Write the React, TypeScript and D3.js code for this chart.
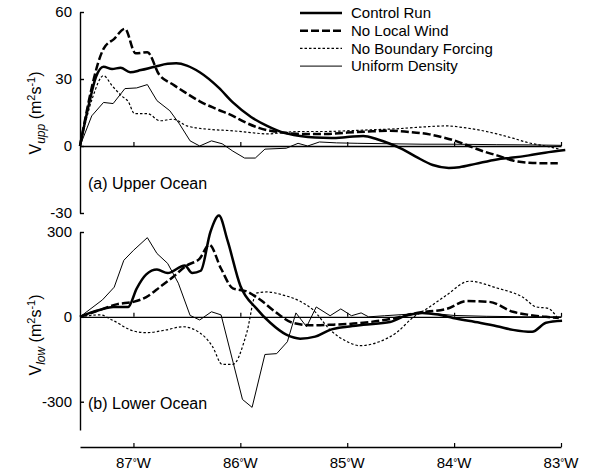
import React, { Component } from 'react'
import * as d3 from 'd3'

type Pt = [number, number]

// longitude (deg, west negative), transport (m2/s)
const lonTicks = [-87, -86, -85, -84, -83]
const upperTicks = [60, 30, 0, -30]
const lowerTicks = [300, 0, -300]
const seriesNames = ['Control Run', 'No Local Wind', 'No Boundary Forcing', 'Uniform Density']

const controlUpper: Pt[] = [
  [-87.5, 0], [-87.42, 18], [-87.35, 31], [-87.28, 35.5], [-87.2, 34.5], [-87.12, 35], [-87.03, 33],
  [-86.93, 34], [-86.8, 35.5], [-86.68, 36.8], [-86.6, 37], [-86.5, 36], [-86.38, 33], [-86.2, 26],
  [-86.07, 19.5], [-85.9, 13], [-85.75, 9], [-85.6, 6], [-85.44, 4.5], [-85.3, 3.8], [-85.15, 3.6],
  [-85.0, 4], [-84.85, 4.5], [-84.72, 3], [-84.6, 1], [-84.48, -1.5], [-84.35, -5], [-84.2, -8.5],
  [-84.05, -9.8], [-83.95, -9.5], [-83.8, -8], [-83.6, -6], [-83.45, -5.2], [-83.3, -4.2],
  [-83.15, -3], [-82.96, -1.8]
]
const noWindUpper: Pt[] = [
  [-87.5, 0], [-87.28, 43.5], [-87.18, 48], [-87.08, 52.5], [-86.98, 41.5], [-86.87, 42],
  [-86.76, 32], [-86.63, 27.5], [-86.5, 23.5], [-86.38, 20], [-86.22, 16.5], [-86.07, 13.5],
  [-85.95, 10.5], [-85.82, 8], [-85.6, 6], [-85.44, 5.4], [-85.2, 5.4], [-85.0, 6], [-84.8, 6.5],
  [-84.6, 6.8], [-84.4, 6.2], [-84.23, 5.2], [-84.1, 3.8], [-84.0, 2.5], [-83.86, 0], [-83.72, -2.5],
  [-83.6, -4.2], [-83.45, -6.5], [-83.3, -7.5], [-83.15, -7.7], [-83.03, -7.7]
]
const noBoundaryUpper: Pt[] = [
  [-87.5, 0], [-87.38, 22], [-87.28, 31.5], [-87.2, 27], [-87.1, 22], [-87.05, 20], [-86.99, 14.5],
  [-86.87, 14.5], [-86.75, 11.3], [-86.63, 12], [-86.5, 9], [-86.3, 7.5], [-86.07, 6.8], [-85.9, 6],
  [-85.75, 5.4], [-85.6, 6], [-85.44, 6.5], [-85.2, 6.5], [-85.0, 6.8], [-84.8, 7.2], [-84.54, 7.7],
  [-84.3, 8.5], [-84.07, 9], [-83.92, 8.3], [-83.75, 7], [-83.6, 5.4], [-83.45, 3.5], [-83.3, 1.4],
  [-83.15, 0], [-83.01, -1.4]
]
const uniformUpper: Pt[] = [
  [-87.5, 0], [-87.39, 13.5], [-87.28, 19.5], [-87.19, 19], [-87.08, 25.7], [-86.97, 26],
  [-86.87, 27.5], [-86.78, 20.3], [-86.66, 15.8], [-86.57, 9.9], [-86.47, 2.3], [-86.38, 0],
  [-86.27, 2.3], [-86.17, 1], [-86.07, -2.3], [-85.96, -5.4], [-85.86, -5.4], [-85.77, -1.4],
  [-85.57, -1], [-85.46, 1.2], [-85.37, 0], [-85.26, 1.8], [-85.1, 1.4], [-84.9, 1.2], [-84.6, 1],
  [-84.3, 0.8], [-84.0, 0.8], [-83.6, 0.6], [-83.3, 0.5], [-83.0, 0.3]
]

const controlLower: Pt[] = [
  [-87.5, 0], [-87.4, 15], [-87.31, 25], [-87.19, 35], [-87.05, 35], [-86.97, 100], [-86.88, 150],
  [-86.78, 167], [-86.68, 155], [-86.52, 182], [-86.45, 155], [-86.37, 163], [-86.28, 300],
  [-86.2, 358], [-86.12, 270], [-86.0, 110], [-85.85, 30], [-85.72, -21], [-85.57, -63],
  [-85.44, -77], [-85.3, -70], [-85.16, -46], [-85.0, -35], [-84.85, -28], [-84.6, -18],
  [-84.45, 5], [-84.3, 14], [-84.15, 8], [-84.01, -4], [-83.76, -21], [-83.6, -33], [-83.45, -46],
  [-83.27, -53], [-83.14, -21], [-82.99, -14]
]
const noWindLower: Pt[] = [
  [-87.5, 0], [-87.31, 25], [-87.15, 45], [-87.0, 53], [-86.88, 70], [-86.75, 106], [-86.63, 141],
  [-86.5, 182], [-86.38, 206], [-86.29, 255], [-86.18, 170], [-86.07, 101], [-85.94, 90],
  [-85.82, 62], [-85.66, 14], [-85.51, -21], [-85.32, -30], [-85.15, -28], [-84.85, -21],
  [-84.55, -4], [-84.35, 14], [-84.07, 28], [-83.88, 56], [-83.67, 53], [-83.45, 18], [-83.3, 7],
  [-83.14, 0], [-83.02, -4]
]
const noBoundaryLower: Pt[] = [
  [-87.5, 0], [-87.31, 7], [-87.2, -11], [-87.0, -50], [-86.88, -56], [-86.69, -46], [-86.54, -35],
  [-86.38, -56], [-86.26, -105], [-86.17, -168], [-86.07, -168], [-85.94, -56], [-85.85, 84],
  [-85.75, 88], [-85.6, 77], [-85.44, 55], [-85.32, 25], [-85.16, -46], [-85.0, -88], [-84.88, -102],
  [-84.7, -88], [-84.54, -56], [-84.39, -4], [-84.23, 35], [-84.07, 77], [-83.86, 126], [-83.6, 102],
  [-83.36, 70], [-83.23, 35], [-83.12, 30], [-83.04, 0]
]
const uniformLower: Pt[] = [
  [-87.5, 0], [-87.29, 60], [-87.18, 105], [-87.09, 200], [-87.0, 235], [-86.87, 280], [-86.78, 224],
  [-86.68, 189], [-86.58, 119], [-86.47, 5], [-86.38, -11], [-86.27, 18], [-86.18, 7],
  [-85.98, -292], [-85.89, -320], [-85.77, -133], [-85.66, -130], [-85.56, -88], [-85.48, 14],
  [-85.38, -35], [-85.29, 35], [-85.16, 4], [-85.06, 28], [-84.96, 4], [-84.87, 14], [-84.8, 0],
  [-84.65, 4], [-84.4, 10], [-84.26, 14], [-84.0, 5], [-83.7, 2], [-83.3, 0], [-83.0, 0]
]

const FONT = '"Liberation Sans", Arial, Helvetica, sans-serif'

class OceanChart extends Component {
  node: SVGSVGElement | null = null

  componentDidMount() {
    this.createChart()
  }
  componentDidUpdate() {
    this.createChart()
  }

  createChart() {
    const svg = d3.select(this.node)
    svg.selectAll('*').remove()

    const x = d3.scaleLinear().domain([-87.5, -83]).range([80, 561])
    const yUp = d3.scaleLinear().domain([-30, 60]).range([213, 12])
    const yLow = d3.scaleLinear().domain([-400, 300]).range([430, 232])

    // line styles: control, no wind, no boundary, uniform
    const styles = [
      { w: 2.5, dash: null, curve: d3.curveMonotoneX },
      { w: 2.5, dash: '8,3', curve: d3.curveMonotoneX },
      { w: 1.2, dash: '2.5,2', curve: d3.curveMonotoneX },
      { w: 1, dash: null, curve: d3.curveLinear }
    ]

    function drawPanel(y: d3.ScaleLinear<number, number>, ticks: number[], series: Pt[][]) {
      const g = svg.append('g')
      g.append('g')
        .attr('transform', 'translate(80,0)')
        .call(d3.axisLeft(y).tickValues(ticks).tickSize(-4).tickSizeOuter(0).tickPadding(8)
          .tickFormat(d => String(d)))
        .call(a => a.select('.domain').attr('stroke-width', 1.4))
        .call(a => a.selectAll('line').attr('stroke-width', 1.4))
        .call(a => a.selectAll('text').attr('font-size', 15).attr('font-family', FONT).attr('fill', '#000'))

      g.append('g')
        .attr('transform', 'translate(0,' + y(0) + ')')
        .call(d3.axisBottom(x).tickValues(lonTicks).tickSize(-4).tickSizeOuter(0).tickFormat(() => ''))
        .call(a => a.select('.domain').attr('stroke-width', 1.4))
        .call(a => a.selectAll('line').attr('stroke-width', 1.2))

      series.forEach(function (data, i) {
        const s = styles[i]
        const line = d3.line<Pt>()
          .x(d => x(d[0]))
          .y(d => y(d[1]))
          .curve(s.curve)
        g.append('path')
          .attr('d', line(data))
          .attr('fill', 'none')
          .attr('stroke', '#000')
          .attr('stroke-width', s.w)
          .attr('stroke-dasharray', s.dash)
          .attr('stroke-linejoin', 'round')
      })
    }

    drawPanel(yUp, upperTicks, [controlUpper, noWindUpper, noBoundaryUpper, uniformUpper])
    drawPanel(yLow, lowerTicks, [controlLower, noWindLower, noBoundaryLower, uniformLower])

    // panel labels
    svg.append('text').attr('x', 88).attr('y', 189).text('(a) Upper Ocean')
      .attr('font-size', 16).attr('font-family', FONT)
    svg.append('text').attr('x', 88).attr('y', 409).text('(b) Lower Ocean')
      .attr('font-size', 16).attr('font-family', FONT)

    // y titles
    function yTitle(cx: number, cy: number, sub: string) {
      const t = svg.append('text')
        .attr('transform', 'translate(' + cx + ',' + cy + ') rotate(-90)')
        .attr('text-anchor', 'middle')
        .attr('font-size', 16)
        .attr('font-family', FONT)
      t.append('tspan').text('V')
      t.append('tspan').text(sub).attr('font-style', 'italic').attr('font-size', 12).attr('dy', 4)
      t.append('tspan').text(' (m').attr('dy', -4)
      t.append('tspan').text('2').attr('font-size', 11).attr('dy', -6)
      t.append('tspan').text('s').attr('dy', 6)
      t.append('tspan').text('-1').attr('font-size', 11).attr('dy', -6)
      t.append('tspan').text(')').attr('dy', 6)
    }
    yTitle(41, 113, 'upp')
    yTitle(41, 335, 'low')

    // bottom longitude axis
    const xa = svg.append('g').attr('transform', 'translate(0,447)')
    xa.call(d3.axisBottom(x).tickValues(lonTicks).tickSize(-4).tickSizeOuter(0).tickFormat(() => ''))
      .call(a => a.select('.domain').attr('stroke-width', 1.4))
      .call(a => a.selectAll('line').attr('stroke-width', 1.2))
    lonTicks.forEach(function (t) {
      const txt = svg.append('text')
        .attr('x', x(t))
        .attr('y', 468)
        .attr('text-anchor', 'middle')
        .attr('font-size', 15)
        .attr('font-family', FONT)
      txt.append('tspan').text(String(Math.abs(t)))
      txt.append('tspan').text('°').attr('font-size', 10).attr('dy', -2)
      txt.append('tspan').text('W').attr('dy', 2)
    })

    // legend
    const legend = svg.append('g')
    seriesNames.forEach(function (name, i) {
      const s = styles[i]
      const ly = 13 + i * 17.7
      legend.append('line')
        .attr('x1', 300).attr('x2', 342)
        .attr('y1', ly).attr('y2', ly)
        .attr('stroke', '#000')
        .attr('stroke-width', s.w)
        .attr('stroke-dasharray', s.dash)
      legend.append('text')
        .attr('x', 351).attr('y', ly).attr('dy', '0.35em')
        .attr('font-size', 15).attr('font-family', FONT)
        .text(name)
    })
  }

  render() {
    return (
      <svg
        ref={node => { this.node = node }}
        width={589}
        height={473}
        style={{ position: 'absolute', left: 0, top: 0, background: '#fff' }}
      />
    )
  }
}

export default function App() {
  return <OceanChart />
}
